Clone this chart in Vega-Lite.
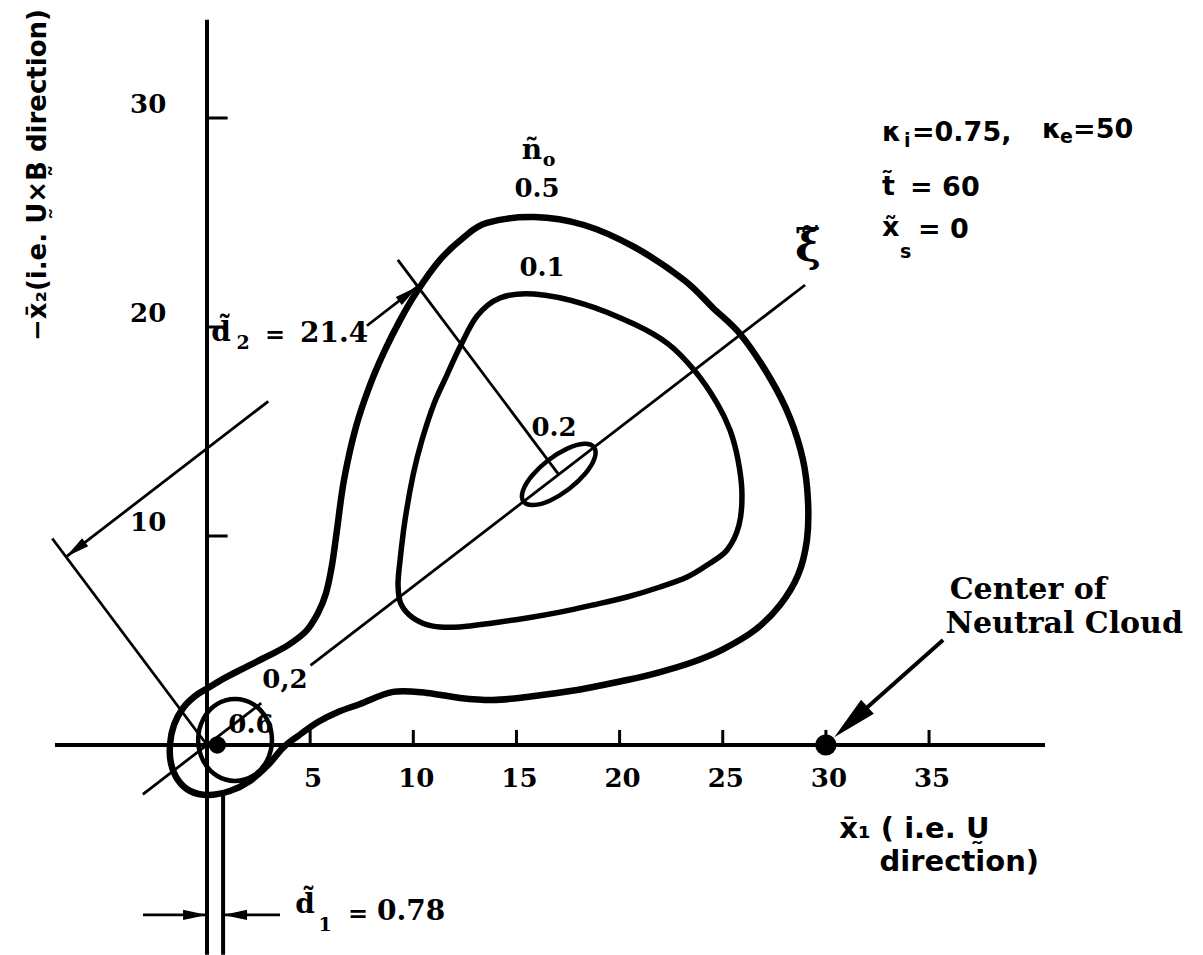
{
  "$schema": "https://vega.github.io/schema/vega-lite/v6.json",
  "width": 1203,
  "height": 955,
  "autosize": {"type": "none"},
  "padding": 0,
  "background": "white",
  "config": {"view": {"stroke": null}},
  "datasets": {
    "curves": [
      {"c": "n05", "i": 1, "x": 13.57, "y": 24.98}, {"c": "n05", "i": 2, "x": 15.85, "y": 25.26},
      {"c": "n05", "i": 3, "x": 18.27, "y": 24.88}, {"c": "n05", "i": 4, "x": 20.70, "y": 23.83},
      {"c": "n05", "i": 5, "x": 23.12, "y": 22.25}, {"c": "n05", "i": 6, "x": 24.53, "y": 20.91},
      {"c": "n05", "i": 7, "x": 25.88, "y": 19.62}, {"c": "n05", "i": 8, "x": 27.29, "y": 17.56},
      {"c": "n05", "i": 9, "x": 28.26, "y": 15.65}, {"c": "n05", "i": 10, "x": 28.89, "y": 13.64},
      {"c": "n05", "i": 11, "x": 29.13, "y": 11.72}, {"c": "n05", "i": 12, "x": 29.08, "y": 9.81},
      {"c": "n05", "i": 13, "x": 28.65, "y": 8.13}, {"c": "n05", "i": 14, "x": 27.78, "y": 6.70},
      {"c": "n05", "i": 15, "x": 26.56, "y": 5.50}, {"c": "n05", "i": 16, "x": 24.96, "y": 4.55},
      {"c": "n05", "i": 17, "x": 23.56, "y": 3.97}, {"c": "n05", "i": 18, "x": 21.96, "y": 3.49},
      {"c": "n05", "i": 19, "x": 20.36, "y": 3.11}, {"c": "n05", "i": 20, "x": 17.94, "y": 2.63},
      {"c": "n05", "i": 21, "x": 15.51, "y": 2.30}, {"c": "n05", "i": 22, "x": 13.86, "y": 2.15},
      {"c": "n05", "i": 23, "x": 12.26, "y": 2.25}, {"c": "n05", "i": 24, "x": 10.66, "y": 2.49},
      {"c": "n05", "i": 25, "x": 9.02, "y": 2.54}, {"c": "n05", "i": 26, "x": 7.42, "y": 1.96},
      {"c": "n05", "i": 27, "x": 6.35, "y": 1.58}, {"c": "n05", "i": 28, "x": 5.38, "y": 1.10},
      {"c": "n05", "i": 29, "x": 4.41, "y": 0.43}, {"c": "n05", "i": 30, "x": 3.68, "y": -0.14},
      {"c": "n05", "i": 31, "x": 2.96, "y": -0.96}, {"c": "n05", "i": 32, "x": 2.08, "y": -1.72},
      {"c": "n05", "i": 33, "x": 1.11, "y": -2.20}, {"c": "n05", "i": 34, "x": 0.05, "y": -2.39},
      {"c": "n05", "i": 35, "x": -0.82, "y": -2.20}, {"c": "n05", "i": 36, "x": -1.41, "y": -1.67},
      {"c": "n05", "i": 37, "x": -1.75, "y": -0.86}, {"c": "n05", "i": 38, "x": -1.79, "y": 0.05},
      {"c": "n05", "i": 39, "x": -1.60, "y": 0.96}, {"c": "n05", "i": 40, "x": -1.16, "y": 1.77},
      {"c": "n05", "i": 41, "x": -0.58, "y": 2.34}, {"c": "n05", "i": 42, "x": 0.05, "y": 2.73},
      {"c": "n05", "i": 43, "x": 0.87, "y": 3.21}, {"c": "n05", "i": 44, "x": 1.89, "y": 3.73},
      {"c": "n05", "i": 45, "x": 2.96, "y": 4.26}, {"c": "n05", "i": 46, "x": 3.93, "y": 4.78},
      {"c": "n05", "i": 47, "x": 4.80, "y": 5.45}, {"c": "n05", "i": 48, "x": 5.38, "y": 6.32},
      {"c": "n05", "i": 49, "x": 5.77, "y": 7.27}, {"c": "n05", "i": 50, "x": 6.06, "y": 8.61},
      {"c": "n05", "i": 51, "x": 6.30, "y": 10.29}, {"c": "n05", "i": 52, "x": 6.64, "y": 12.68},
      {"c": "n05", "i": 53, "x": 7.22, "y": 15.22}, {"c": "n05", "i": 54, "x": 7.90, "y": 17.22},
      {"c": "n05", "i": 55, "x": 8.63, "y": 18.90}, {"c": "n05", "i": 56, "x": 9.36, "y": 20.33},
      {"c": "n05", "i": 57, "x": 10.13, "y": 21.63}, {"c": "n05", "i": 58, "x": 11.29, "y": 23.21},
      {"c": "n05", "i": 59, "x": 12.41, "y": 24.26},

      {"c": "n01", "i": 1, "x": 15.85, "y": 21.58}, {"c": "n01", "i": 2, "x": 18.27, "y": 21.10},
      {"c": "n01", "i": 3, "x": 20.70, "y": 20.14}, {"c": "n01", "i": 4, "x": 22.35, "y": 19.19},
      {"c": "n01", "i": 5, "x": 23.65, "y": 17.89}, {"c": "n01", "i": 6, "x": 24.72, "y": 16.36},
      {"c": "n01", "i": 7, "x": 25.35, "y": 15.07}, {"c": "n01", "i": 8, "x": 25.74, "y": 13.64},
      {"c": "n01", "i": 9, "x": 25.93, "y": 12.06}, {"c": "n01", "i": 10, "x": 25.79, "y": 10.53},
      {"c": "n01", "i": 11, "x": 25.21, "y": 9.33}, {"c": "n01", "i": 12, "x": 24.24, "y": 8.61},
      {"c": "n01", "i": 13, "x": 23.27, "y": 8.04}, {"c": "n01", "i": 14, "x": 21.96, "y": 7.56},
      {"c": "n01", "i": 15, "x": 20.36, "y": 7.08}, {"c": "n01", "i": 16, "x": 18.71, "y": 6.70},
      {"c": "n01", "i": 17, "x": 17.11, "y": 6.36}, {"c": "n01", "i": 18, "x": 15.51, "y": 6.08},
      {"c": "n01", "i": 19, "x": 13.86, "y": 5.84}, {"c": "n01", "i": 20, "x": 12.26, "y": 5.65},
      {"c": "n01", "i": 21, "x": 10.95, "y": 5.69}, {"c": "n01", "i": 22, "x": 9.99, "y": 6.08},
      {"c": "n01", "i": 23, "x": 9.40, "y": 6.75}, {"c": "n01", "i": 24, "x": 9.26, "y": 7.66},
      {"c": "n01", "i": 25, "x": 9.36, "y": 8.85}, {"c": "n01", "i": 26, "x": 9.60, "y": 10.77},
      {"c": "n01", "i": 27, "x": 9.99, "y": 12.92}, {"c": "n01", "i": 28, "x": 10.42, "y": 14.59},
      {"c": "n01", "i": 29, "x": 11.00, "y": 16.32}, {"c": "n01", "i": 30, "x": 11.63, "y": 17.70},
      {"c": "n01", "i": 31, "x": 12.26, "y": 19.04}, {"c": "n01", "i": 32, "x": 13.09, "y": 20.53},
      {"c": "n01", "i": 33, "x": 14.20, "y": 21.39},

      {"c": "n02", "i": 1, "x": 18.76, "y": 14.24}, {"c": "n02", "i": 2, "x": 18.28, "y": 14.41},
      {"c": "n02", "i": 3, "x": 17.46, "y": 14.18}, {"c": "n02", "i": 4, "x": 16.54, "y": 13.62},
      {"c": "n02", "i": 5, "x": 15.75, "y": 12.88}, {"c": "n02", "i": 6, "x": 15.31, "y": 12.15},
      {"c": "n02", "i": 7, "x": 15.34, "y": 11.64}, {"c": "n02", "i": 8, "x": 15.82, "y": 11.48},
      {"c": "n02", "i": 9, "x": 16.64, "y": 11.70}, {"c": "n02", "i": 10, "x": 17.56, "y": 12.26},
      {"c": "n02", "i": 11, "x": 18.35, "y": 13.00}, {"c": "n02", "i": 12, "x": 18.79, "y": 13.73},

      {"c": "n06", "i": 1, "x": 3.15, "y": 0.24}, {"c": "n06", "i": 2, "x": 2.91, "y": 1.22},
      {"c": "n06", "i": 3, "x": 2.26, "y": 1.94}, {"c": "n06", "i": 4, "x": 1.36, "y": 2.20},
      {"c": "n06", "i": 5, "x": 0.46, "y": 1.94}, {"c": "n06", "i": 6, "x": -0.19, "y": 1.22},
      {"c": "n06", "i": 7, "x": -0.43, "y": 0.24}, {"c": "n06", "i": 8, "x": -0.19, "y": -0.74},
      {"c": "n06", "i": 9, "x": 0.46, "y": -1.46}, {"c": "n06", "i": 10, "x": 1.36, "y": -1.72},
      {"c": "n06", "i": 11, "x": 2.26, "y": -1.46}, {"c": "n06", "i": 12, "x": 2.91, "y": -0.74}
    ],
    "segs": [
      {"k": "axis", "x": -7.37, "y": 0, "x2": 40.62, "y2": 0},
      {"k": "axis", "x": 0, "y": -10.04, "x2": 0, "y2": 34.7},
      {"k": "axis", "x": 0.78, "y": -2.35, "x2": 0.78, "y2": -10.04},
      {"k": "thin", "x": -3.11, "y": -2.36, "x2": 2.63, "y2": 2.00},
      {"k": "thin", "x": 5.02, "y": 3.81, "x2": 28.99, "y2": 22.01},
      {"k": "thin", "x": 0, "y": 0, "x2": -7.50, "y2": 9.88},
      {"k": "thin", "x": 17.05, "y": 12.94, "x2": 9.25, "y2": 23.21},
      {"k": "thin", "x": -6.83, "y": 9.00, "x2": 2.97, "y2": 16.44},
      {"k": "thin", "x": 7.75, "y": 20.06, "x2": 10.22, "y2": 21.94},
      {"k": "thin", "x": -3.1, "y": -8.13, "x2": 0, "y2": -8.13},
      {"k": "thin", "x": 0.78, "y": -8.13, "x2": 3.54, "y2": -8.13},
      {"k": "axis", "x": 35.68, "y": 5.02, "x2": 31.19, "y2": 1.09}
    ],
    "xticks": [{"v": 5}, {"v": 10}, {"v": 15}, {"v": 20}, {"v": 25}, {"v": 30}, {"v": 35}],
    "yticks": [{"v": 10}, {"v": 20}, {"v": 30}],
    "heads": [
      {"kind": "small", "x": -6.37, "y": 9.35, "heading": 232.8},
      {"kind": "small", "x": 9.76, "y": 21.59, "heading": 52.8},
      {"kind": "small", "x": -0.58, "y": -8.13, "heading": 90},
      {"kind": "small", "x": 1.36, "y": -8.13, "heading": 270},
      {"kind": "big", "x": 31.21, "y": 1.10, "heading": 227.6}
    ],
    "dots": [
      {"name": "ion cloud", "x": 0.5, "y": 0},
      {"name": "neutral cloud", "x": 30, "y": 0}
    ],
    "labels": [
      {"k": "num", "t": "0.5", "x": 16.0, "y": 26.60},
      {"k": "num", "t": "0.1", "x": 16.24, "y": 22.82},
      {"k": "num", "t": "0.2", "x": 16.82, "y": 15.17},
      {"k": "num", "t": "0,2", "x": 3.78, "y": 3.11},
      {"k": "num", "t": "0.6", "x": 2.13, "y": 0.96},
      {"k": "n", "t": "\u00f1", "x": 15.75, "y": 28.40},
      {"k": "nsub", "t": "o", "x": 16.58, "y": 27.99},
      {"k": "xi", "t": "\u03be\u0303", "x": 29.13, "y": 23.78},
      {"k": "d", "t": "d\u0303", "x": 0.68, "y": 19.71},
      {"k": "dsub", "t": "2", "x": 1.75, "y": 19.23},
      {"k": "eq", "t": "=", "x": 3.30, "y": 19.57},
      {"k": "val", "t": "21.4", "x": 4.51, "y": 19.67},
      {"k": "d", "t": "d\u0303", "x": 4.75, "y": -7.66},
      {"k": "dsub", "t": "1", "x": 5.72, "y": -8.61},
      {"k": "eq", "t": "=", "x": 7.32, "y": -8.13},
      {"k": "val", "t": "0.78", "x": 8.24, "y": -7.99},
      {"k": "param", "t": "\u03ba", "x": 32.72, "y": 29.28},
      {"k": "psub", "t": "i", "x": 33.79, "y": 28.90},
      {"k": "param", "t": "=0.75,", "x": 34.17, "y": 29.28},
      {"k": "param", "t": "\u03ba", "x": 40.47, "y": 29.43},
      {"k": "psub", "t": "e", "x": 41.35, "y": 29.09},
      {"k": "param", "t": "=50", "x": 41.98, "y": 29.43},
      {"k": "param", "t": "t\u0303", "x": 32.72, "y": 26.70},
      {"k": "param", "t": "= 60", "x": 34.08, "y": 26.65},
      {"k": "param", "t": "x\u0303", "x": 32.72, "y": 24.74},
      {"k": "psub", "t": "s", "x": 33.59, "y": 23.59},
      {"k": "param", "t": "= 0", "x": 34.46, "y": 24.64},
      {"k": "note", "t": "Center of", "x": 36.0, "y": 7.41},
      {"k": "note", "t": "Neutral Cloud", "x": 35.8, "y": 5.79},
      {"k": "xtitle", "t": "x\u0304\u2081 ( i.e. U\u0330", "x": 30.65, "y": -4.0},
      {"k": "xtitle", "t": "direction)", "x": 32.6, "y": -5.6},
      {"k": "ytitle", "t": "\u2212x\u0304\u2082(i.e. U\u0330\u00d7B\u0330 direction)", "x": -8.19, "y": 27.27}
    ]
  },
  "layer": [
    {
      "data": {"name": "segs"},
      "transform": [{"filter": "datum.k === 'axis'"}],
      "mark": {"type": "rule", "color": "black", "strokeWidth": 4},
      "encoding": {
        "x": {"field": "x", "type": "quantitative", "scale": {"domain": [-10.034, 48.279], "nice": false, "zero": false}, "axis": null},
        "y": {"field": "y", "type": "quantitative", "scale": {"domain": [-10.048, 35.646], "nice": false, "zero": false}, "axis": null},
        "x2": {"field": "x2"},
        "y2": {"field": "y2"}
      }
    },
    {
      "data": {"name": "segs"},
      "transform": [{"filter": "datum.k === 'thin'"}],
      "mark": {"type": "rule", "color": "black", "strokeWidth": 2.8},
      "encoding": {
        "x": {"field": "x", "type": "quantitative", "scale": {"domain": [-10.034, 48.279], "nice": false, "zero": false}, "axis": null},
        "y": {"field": "y", "type": "quantitative", "scale": {"domain": [-10.048, 35.646], "nice": false, "zero": false}, "axis": null},
        "x2": {"field": "x2"},
        "y2": {"field": "y2"}
      }
    },
    {
      "data": {"name": "xticks"},
      "mark": {"type": "rule", "color": "black", "strokeWidth": 3},
      "encoding": {
        "x": {"field": "v", "type": "quantitative", "scale": {"domain": [-10.034, 48.279], "nice": false, "zero": false}, "axis": null},
        "y": {"datum": 0, "type": "quantitative", "scale": {"domain": [-10.048, 35.646], "nice": false, "zero": false}, "axis": null},
        "y2": {"datum": 0.72}
      }
    },
    {
      "data": {"name": "yticks"},
      "mark": {"type": "rule", "color": "black", "strokeWidth": 3},
      "encoding": {
        "x": {"datum": 0, "type": "quantitative", "scale": {"domain": [-10.034, 48.279], "nice": false, "zero": false}, "axis": null},
        "x2": {"datum": 1.0},
        "y": {"field": "v", "type": "quantitative", "scale": {"domain": [-10.048, 35.646], "nice": false, "zero": false}, "axis": null}
      }
    },
    {
      "data": {"name": "curves"},
      "transform": [{"filter": "datum.c === 'n05'"}],
      "mark": {"type": "line", "interpolate": "cardinal-closed", "color": "black", "strokeWidth": 6.5, "strokeJoin": "round"},
      "encoding": {
        "x": {"field": "x", "type": "quantitative", "scale": {"domain": [-10.034, 48.279], "nice": false, "zero": false}, "axis": null},
        "y": {"field": "y", "type": "quantitative", "scale": {"domain": [-10.048, 35.646], "nice": false, "zero": false}, "axis": null},
        "order": {"field": "i", "type": "quantitative"}
      }
    },
    {
      "data": {"name": "curves"},
      "transform": [{"filter": "datum.c === 'n01'"}],
      "mark": {"type": "line", "interpolate": "cardinal-closed", "color": "black", "strokeWidth": 5.5, "strokeJoin": "round"},
      "encoding": {
        "x": {"field": "x", "type": "quantitative", "scale": {"domain": [-10.034, 48.279], "nice": false, "zero": false}, "axis": null},
        "y": {"field": "y", "type": "quantitative", "scale": {"domain": [-10.048, 35.646], "nice": false, "zero": false}, "axis": null},
        "order": {"field": "i", "type": "quantitative"}
      }
    },
    {
      "data": {"name": "curves"},
      "transform": [{"filter": "datum.c === 'n02' || datum.c === 'n06'"}],
      "mark": {"type": "line", "interpolate": "cardinal-closed", "color": "black", "strokeWidth": 4.5, "strokeJoin": "round"},
      "encoding": {
        "x": {"field": "x", "type": "quantitative", "scale": {"domain": [-10.034, 48.279], "nice": false, "zero": false}, "axis": null},
        "y": {"field": "y", "type": "quantitative", "scale": {"domain": [-10.048, 35.646], "nice": false, "zero": false}, "axis": null},
        "detail": {"field": "c", "type": "nominal"},
        "order": {"field": "i", "type": "quantitative"}
      }
    },
    {
      "data": {"name": "dots"},
      "mark": {"type": "point", "shape": "circle", "filled": true, "color": "black", "opacity": 1},
      "encoding": {
        "x": {"field": "x", "type": "quantitative", "scale": {"domain": [-10.034, 48.279], "nice": false, "zero": false}, "axis": null},
        "y": {"field": "y", "type": "quantitative", "scale": {"domain": [-10.048, 35.646], "nice": false, "zero": false}, "axis": null},
        "size": {"condition": {"test": "datum.name === 'neutral cloud'", "value": 450}, "value": 300}
      }
    },
    {
      "data": {"name": "heads"},
      "transform": [{"filter": "datum.kind === 'small'"}],
      "mark": {"type": "point", "shape": "M0,-1L0.42,1L-0.42,1Z", "filled": true, "color": "black", "opacity": 1, "size": 576},
      "encoding": {
        "x": {"field": "x", "type": "quantitative", "scale": {"domain": [-10.034, 48.279], "nice": false, "zero": false}, "axis": null},
        "y": {"field": "y", "type": "quantitative", "scale": {"domain": [-10.048, 35.646], "nice": false, "zero": false}, "axis": null},
        "angle": {"field": "heading", "type": "quantitative", "scale": null}
      }
    },
    {
      "data": {"name": "heads"},
      "transform": [{"filter": "datum.kind === 'big'"}],
      "mark": {"type": "point", "shape": "M0,-1L0.42,1L-0.42,1Z", "filled": true, "color": "black", "opacity": 1, "size": 2025},
      "encoding": {
        "x": {"field": "x", "type": "quantitative", "scale": {"domain": [-10.034, 48.279], "nice": false, "zero": false}, "axis": null},
        "y": {"field": "y", "type": "quantitative", "scale": {"domain": [-10.048, 35.646], "nice": false, "zero": false}, "axis": null},
        "angle": {"field": "heading", "type": "quantitative", "scale": null}
      }
    },
    {
      "data": {"name": "xticks"},
      "mark": {"type": "text", "font": "DejaVu Serif", "fontWeight": "bold", "fontSize": 26, "align": "center", "baseline": "middle", "dx": 3, "color": "black"},
      "encoding": {
        "x": {"field": "v", "type": "quantitative", "scale": {"domain": [-10.034, 48.279], "nice": false, "zero": false}, "axis": null},
        "y": {"datum": -1.63, "type": "quantitative", "scale": {"domain": [-10.048, 35.646], "nice": false, "zero": false}, "axis": null},
        "text": {"field": "v", "type": "quantitative"}
      }
    },
    {
      "data": {"name": "yticks"},
      "mark": {"type": "text", "font": "DejaVu Serif", "fontWeight": "bold", "fontSize": 26, "align": "center", "baseline": "middle", "dy": -13, "color": "black"},
      "encoding": {
        "x": {"datum": -2.85, "type": "quantitative", "scale": {"domain": [-10.034, 48.279], "nice": false, "zero": false}, "axis": null},
        "y": {"field": "v", "type": "quantitative", "scale": {"domain": [-10.048, 35.646], "nice": false, "zero": false}, "axis": null},
        "text": {"field": "v", "type": "quantitative"}
      }
    },
    {
      "data": {"name": "labels"},
      "transform": [{"filter": "datum.k === 'num'"}],
      "mark": {"type": "text", "font": "DejaVu Serif", "fontWeight": "bold", "fontSize": 26, "align": "center", "baseline": "middle", "color": "black"},
      "encoding": {
        "x": {"field": "x", "type": "quantitative", "scale": {"domain": [-10.034, 48.279], "nice": false, "zero": false}, "axis": null},
        "y": {"field": "y", "type": "quantitative", "scale": {"domain": [-10.048, 35.646], "nice": false, "zero": false}, "axis": null},
        "text": {"field": "t"}
      }
    },
    {
      "data": {"name": "labels"},
      "transform": [{"filter": "datum.k === 'n' || datum.k === 'd'"}],
      "mark": {"type": "text", "font": "DejaVu Serif", "fontWeight": "bold", "fontSize": 28, "align": "center", "baseline": "middle", "color": "black"},
      "encoding": {
        "x": {"field": "x", "type": "quantitative", "scale": {"domain": [-10.034, 48.279], "nice": false, "zero": false}, "axis": null},
        "y": {"field": "y", "type": "quantitative", "scale": {"domain": [-10.048, 35.646], "nice": false, "zero": false}, "axis": null},
        "text": {"field": "t"}
      }
    },
    {
      "data": {"name": "labels"},
      "transform": [{"filter": "datum.k === 'nsub' || datum.k === 'dsub'"}],
      "mark": {"type": "text", "font": "DejaVu Serif", "fontWeight": "bold", "fontSize": 19, "align": "center", "baseline": "middle", "color": "black"},
      "encoding": {
        "x": {"field": "x", "type": "quantitative", "scale": {"domain": [-10.034, 48.279], "nice": false, "zero": false}, "axis": null},
        "y": {"field": "y", "type": "quantitative", "scale": {"domain": [-10.048, 35.646], "nice": false, "zero": false}, "axis": null},
        "text": {"field": "t"}
      }
    },
    {
      "data": {"name": "labels"},
      "transform": [{"filter": "datum.k === 'eq'"}],
      "mark": {"type": "text", "font": "DejaVu Serif", "fontWeight": "bold", "fontSize": 24, "align": "center", "baseline": "middle", "color": "black"},
      "encoding": {
        "x": {"field": "x", "type": "quantitative", "scale": {"domain": [-10.034, 48.279], "nice": false, "zero": false}, "axis": null},
        "y": {"field": "y", "type": "quantitative", "scale": {"domain": [-10.048, 35.646], "nice": false, "zero": false}, "axis": null},
        "text": {"field": "t"}
      }
    },
    {
      "data": {"name": "labels"},
      "transform": [{"filter": "datum.k === 'val'"}],
      "mark": {"type": "text", "font": "DejaVu Serif", "fontWeight": "bold", "fontSize": 28, "align": "left", "baseline": "middle", "color": "black"},
      "encoding": {
        "x": {"field": "x", "type": "quantitative", "scale": {"domain": [-10.034, 48.279], "nice": false, "zero": false}, "axis": null},
        "y": {"field": "y", "type": "quantitative", "scale": {"domain": [-10.048, 35.646], "nice": false, "zero": false}, "axis": null},
        "text": {"field": "t"}
      }
    },
    {
      "data": {"name": "labels"},
      "transform": [{"filter": "datum.k === 'xi'"}],
      "mark": {"type": "text", "font": "DejaVu Serif", "fontWeight": "bold", "fontSize": 44, "align": "center", "baseline": "middle", "color": "black"},
      "encoding": {
        "x": {"field": "x", "type": "quantitative", "scale": {"domain": [-10.034, 48.279], "nice": false, "zero": false}, "axis": null},
        "y": {"field": "y", "type": "quantitative", "scale": {"domain": [-10.048, 35.646], "nice": false, "zero": false}, "axis": null},
        "text": {"field": "t"}
      }
    },
    {
      "data": {"name": "labels"},
      "transform": [{"filter": "datum.k === 'param'"}],
      "mark": {"type": "text", "font": "DejaVu Sans", "fontWeight": "bold", "fontSize": 27, "align": "left", "baseline": "middle", "color": "black"},
      "encoding": {
        "x": {"field": "x", "type": "quantitative", "scale": {"domain": [-10.034, 48.279], "nice": false, "zero": false}, "axis": null},
        "y": {"field": "y", "type": "quantitative", "scale": {"domain": [-10.048, 35.646], "nice": false, "zero": false}, "axis": null},
        "text": {"field": "t"}
      }
    },
    {
      "data": {"name": "labels"},
      "transform": [{"filter": "datum.k === 'psub'"}],
      "mark": {"type": "text", "font": "DejaVu Sans", "fontWeight": "bold", "fontSize": 19, "align": "left", "baseline": "middle", "color": "black"},
      "encoding": {
        "x": {"field": "x", "type": "quantitative", "scale": {"domain": [-10.034, 48.279], "nice": false, "zero": false}, "axis": null},
        "y": {"field": "y", "type": "quantitative", "scale": {"domain": [-10.048, 35.646], "nice": false, "zero": false}, "axis": null},
        "text": {"field": "t"}
      }
    },
    {
      "data": {"name": "labels"},
      "transform": [{"filter": "datum.k === 'note'"}],
      "mark": {"type": "text", "font": "DejaVu Serif", "fontWeight": "bold", "fontSize": 30, "align": "left", "baseline": "middle", "color": "black"},
      "encoding": {
        "x": {"field": "x", "type": "quantitative", "scale": {"domain": [-10.034, 48.279], "nice": false, "zero": false}, "axis": null},
        "y": {"field": "y", "type": "quantitative", "scale": {"domain": [-10.048, 35.646], "nice": false, "zero": false}, "axis": null},
        "text": {"field": "t"}
      }
    },
    {
      "data": {"name": "labels"},
      "transform": [{"filter": "datum.k === 'xtitle'"}],
      "mark": {"type": "text", "font": "DejaVu Sans", "fontWeight": "bold", "fontSize": 29, "align": "left", "baseline": "middle", "color": "black"},
      "encoding": {
        "x": {"field": "x", "type": "quantitative", "scale": {"domain": [-10.034, 48.279], "nice": false, "zero": false}, "axis": null},
        "y": {"field": "y", "type": "quantitative", "scale": {"domain": [-10.048, 35.646], "nice": false, "zero": false}, "axis": null},
        "text": {"field": "t"}
      }
    },
    {
      "data": {"name": "labels"},
      "transform": [{"filter": "datum.k === 'ytitle'"}],
      "mark": {"type": "text", "font": "DejaVu Sans", "fontWeight": "bold", "fontSize": 26, "align": "center", "baseline": "middle", "angle": 270, "color": "black"},
      "encoding": {
        "x": {"field": "x", "type": "quantitative", "scale": {"domain": [-10.034, 48.279], "nice": false, "zero": false}, "axis": null},
        "y": {"field": "y", "type": "quantitative", "scale": {"domain": [-10.048, 35.646], "nice": false, "zero": false}, "axis": null},
        "text": {"field": "t"}
      }
    }
  ]
}
